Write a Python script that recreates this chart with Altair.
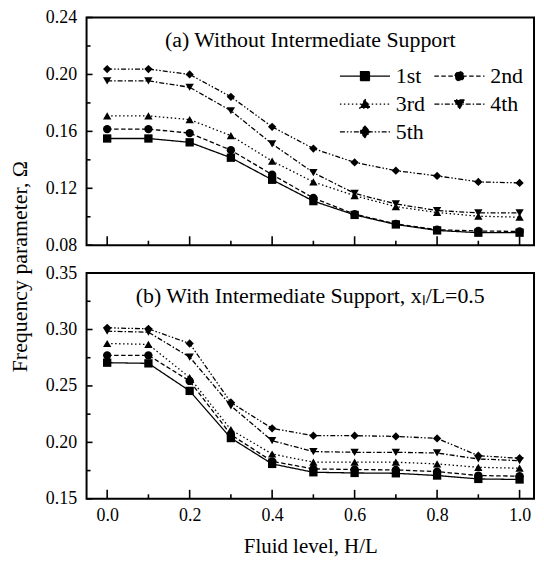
import altair as alt
import pandas as pd

# ---------------- data ----------------
x_vals = [0.0, 0.1, 0.2, 0.3, 0.4, 0.5, 0.6, 0.7, 0.8, 0.9, 1.0]
series = ["1st", "2nd", "3rd", "4th", "5th"]

# (a) Without intermediate support
a_1st = [0.1550, 0.1550, 0.1523, 0.1415, 0.1260, 0.1110, 0.1013, 0.0946, 0.0904, 0.0888, 0.0888]
a_2nd = [0.1616, 0.1616, 0.1588, 0.1468, 0.1296, 0.1132, 0.1018, 0.0950, 0.0909, 0.0900, 0.0897]
a_3rd = [0.1709, 0.1709, 0.1683, 0.1570, 0.1391, 0.1245, 0.1148, 0.1071, 0.1030, 0.1004, 0.0997]
a_4th = [0.1955, 0.1955, 0.1910, 0.1745, 0.1512, 0.1310, 0.1164, 0.1090, 0.1044, 0.1027, 0.1027]
a_5th = [0.2038, 0.2038, 0.2000, 0.1843, 0.1632, 0.1479, 0.1382, 0.1324, 0.1287, 0.1245, 0.1238]

# (b) With intermediate support
b_1st = [0.2706, 0.2700, 0.2456, 0.2038, 0.1809, 0.1735, 0.1729, 0.1726, 0.1706, 0.1676, 0.1671]
b_2nd = [0.2771, 0.2771, 0.2544, 0.2068, 0.1832, 0.1765, 0.1759, 0.1756, 0.1741, 0.1706, 0.1700]
b_3rd = [0.2876, 0.2868, 0.2574, 0.2112, 0.1897, 0.1824, 0.1824, 0.1824, 0.1809, 0.1779, 0.1771]
b_4th = [0.2985, 0.2976, 0.2756, 0.2324, 0.2015, 0.1918, 0.1912, 0.1912, 0.1906, 0.1853, 0.1838]
b_5th = [0.3015, 0.3006, 0.2876, 0.2353, 0.2124, 0.2059, 0.2059, 0.2053, 0.2035, 0.1882, 0.1859]

x_major = [0.0, 0.2, 0.4, 0.6, 0.8, 1.0]
x_minor = [0.1, 0.3, 0.5, 0.7, 0.9]
a_y_major = [0.08, 0.12, 0.16, 0.20, 0.24]
a_y_minor = [0.10, 0.14, 0.18, 0.22]
b_y_major = [0.15, 0.20, 0.25, 0.30, 0.35]
b_y_minor = [0.175, 0.225, 0.275, 0.325]

title_a = "(a) Without Intermediate Support"
title_b = "(b) With Intermediate Support, x\u2097/L=0.5"
y_title = "Frequency parameter,  \u03a9"
x_title = "Fluid level, H/L"

# ---------------- style ----------------
FONT = "Liberation Serif, Times New Roman, serif"
W = 450
H_A = 229
H_B = 227
X_DOMAIN = [-0.05, 1.035]

dashes = [[1, 0], [4.5, 2.5], [1.5, 2.5], [5, 2, 1.5, 2], [5, 2, 1.5, 2, 1.5, 2]]
shapes = ["square", "circle", "triangle-up", "triangle-down", "diamond"]
LL = 5.6
legend_paths = [
    f"M-{LL},0L{LL},0M-1,-1L1,-1L1,1L-1,1Z",
    f"M-{LL},0L{LL},0M1,0C1,0.55 0.55,1 0,1C-0.55,1 -1,0.55 -1,0C-1,-0.55 -0.55,-1 0,-1C0.55,-1 1,-0.55 1,0Z",
    f"M-{LL},0L{LL},0M0,-1.1L1.15,0.9L-1.15,0.9Z",
    f"M-{LL},0L{LL},0M0,1.1L1.15,-0.9L-1.15,-0.9Z",
    f"M-{LL},0L{LL},0M0,-1.25L1.2,0L0,1.25L-1.2,0Z",
]


def long_df(cols):
    rows = []
    for s, vals in zip(series, cols):
        for x, v in zip(x_vals, vals):
            rows.append({"x": x, "y": v, "series": s})
    return pd.DataFrame(rows)


df_a = long_df([a_1st, a_2nd, a_3rd, a_4th, a_5th])
df_b = long_df([b_1st, b_2nd, b_3rd, b_4th, b_5th])


def panel(df, ydom, ymaj, ymin, title, H, bottom, legend):
    xscale = alt.Scale(domain=X_DOMAIN, nice=False, zero=False)
    yscale = alt.Scale(domain=ydom, nice=False, zero=False)
    if bottom:
        xaxis = alt.Axis(values=x_major, format=".1f", title=x_title,
                         labelPadding=8, titlePadding=11, labelFlush=False,
                         labelOverlap=False)
        yaxis = alt.Axis(values=ymaj, format=".2f", title=None, labelPadding=10,
                         labelFlush=False, labelOverlap=False)
    else:
        xaxis = None
        yaxis = alt.Axis(values=ymaj, format=".2f", title=y_title, labelPadding=10,
                         labelFlush=False, labelOverlap=False,
                         titleFontSize=22, titleY=250, titleX=-55,
                         titleAnchor="middle", titleAlign="center",
                         titleBaseline="bottom", titleAngle=270)

    base = alt.Chart(df)
    layers = []
    for i, s in enumerate(series):
        sub = base.transform_filter(alt.datum.series == s)
        if i == 0:
            enc = dict(x=alt.X("x:Q", scale=xscale, axis=xaxis),
                       y=alt.Y("y:Q", scale=yscale, axis=yaxis))
        else:
            enc = dict(x=alt.X("x:Q", axis=xaxis), y=alt.Y("y:Q", axis=yaxis))
        layers.append(sub.mark_line(color="black", strokeWidth=1.3,
                                    strokeDash=dashes[i]).encode(**enc))
        layers.append(sub.mark_point(filled=True, color="black", size=70, opacity=1,
                                     shape=shapes[i]).encode(**enc))
    if legend:
        leg = alt.Legend(orient="none", legendX=269, legendY=48, columns=2,
                         direction="horizontal",
                         title=None, labelFont=FONT, labelFontSize=22,
                         labelColor="black", symbolSize=81,
                         symbolStrokeWidth=1.3, symbolOpacity=1,
                         labelOffset=20, rowPadding=6, columnPadding=6)
        leg_layer = base.mark_point(filled=False, fill="black", stroke="black",
                                    strokeWidth=1.3, opacity=0).encode(
            x=alt.X("x:Q", axis=xaxis),
            y=alt.Y("y:Q", axis=yaxis),
            shape=alt.Shape("series:N",
                            scale=alt.Scale(domain=series, range=legend_paths),
                            legend=leg),
            strokeDash=alt.StrokeDash("series:N",
                                      scale=alt.Scale(domain=series, range=dashes),
                                      legend=leg),
        )
        layers.append(leg_layer)

    def xt(vals, length):
        return alt.Chart(pd.DataFrame({"x": vals})).mark_rule(
            color="black", strokeWidth=1.6).encode(
            x=alt.X("x:Q", axis=xaxis), y=alt.value(H), y2=alt.value(H - length))

    def yt(vals, length):
        return alt.Chart(pd.DataFrame({"y": vals})).mark_rule(
            color="black", strokeWidth=1.6).encode(
            y=alt.Y("y:Q", axis=yaxis), x=alt.value(0), x2=alt.value(length))

    layers += [xt(x_major, 9), xt(x_minor, 4.5), yt(ymaj, 6), yt(ymin, 4)]

    label = alt.Chart(pd.DataFrame({"t": [title]})).mark_text(
        font=FONT, fontSize=22, color="black", baseline="alphabetic",
        align="center").encode(
        text="t:N", x=alt.value(W / 2), y=alt.value(30))
    layers.append(label)

    return alt.layer(*layers).properties(width=W, height=H)


top = panel(df_a, [0.08, 0.24], a_y_major, a_y_minor, title_a, H_A, False, True)
bot = panel(df_b, [0.15, 0.35], b_y_major, b_y_minor, title_b, H_B, True, False)

chart = alt.vconcat(
    top, bot, spacing=28, bounds="flush",
    padding={"left": 0, "top": -2, "right": 0, "bottom": 4},
).configure_view(
    stroke="black", strokeWidth=2
).configure_axis(
    labelFont=FONT, labelFontSize=18, labelColor="black",
    titleFont=FONT, titleFontSize=21, titleColor="black", titleFontWeight="normal",
    grid=False, domain=False, ticks=False, tickSize=0,
)

chart.save("out.html", embed_options={"renderer": "svg", "actions": False})
